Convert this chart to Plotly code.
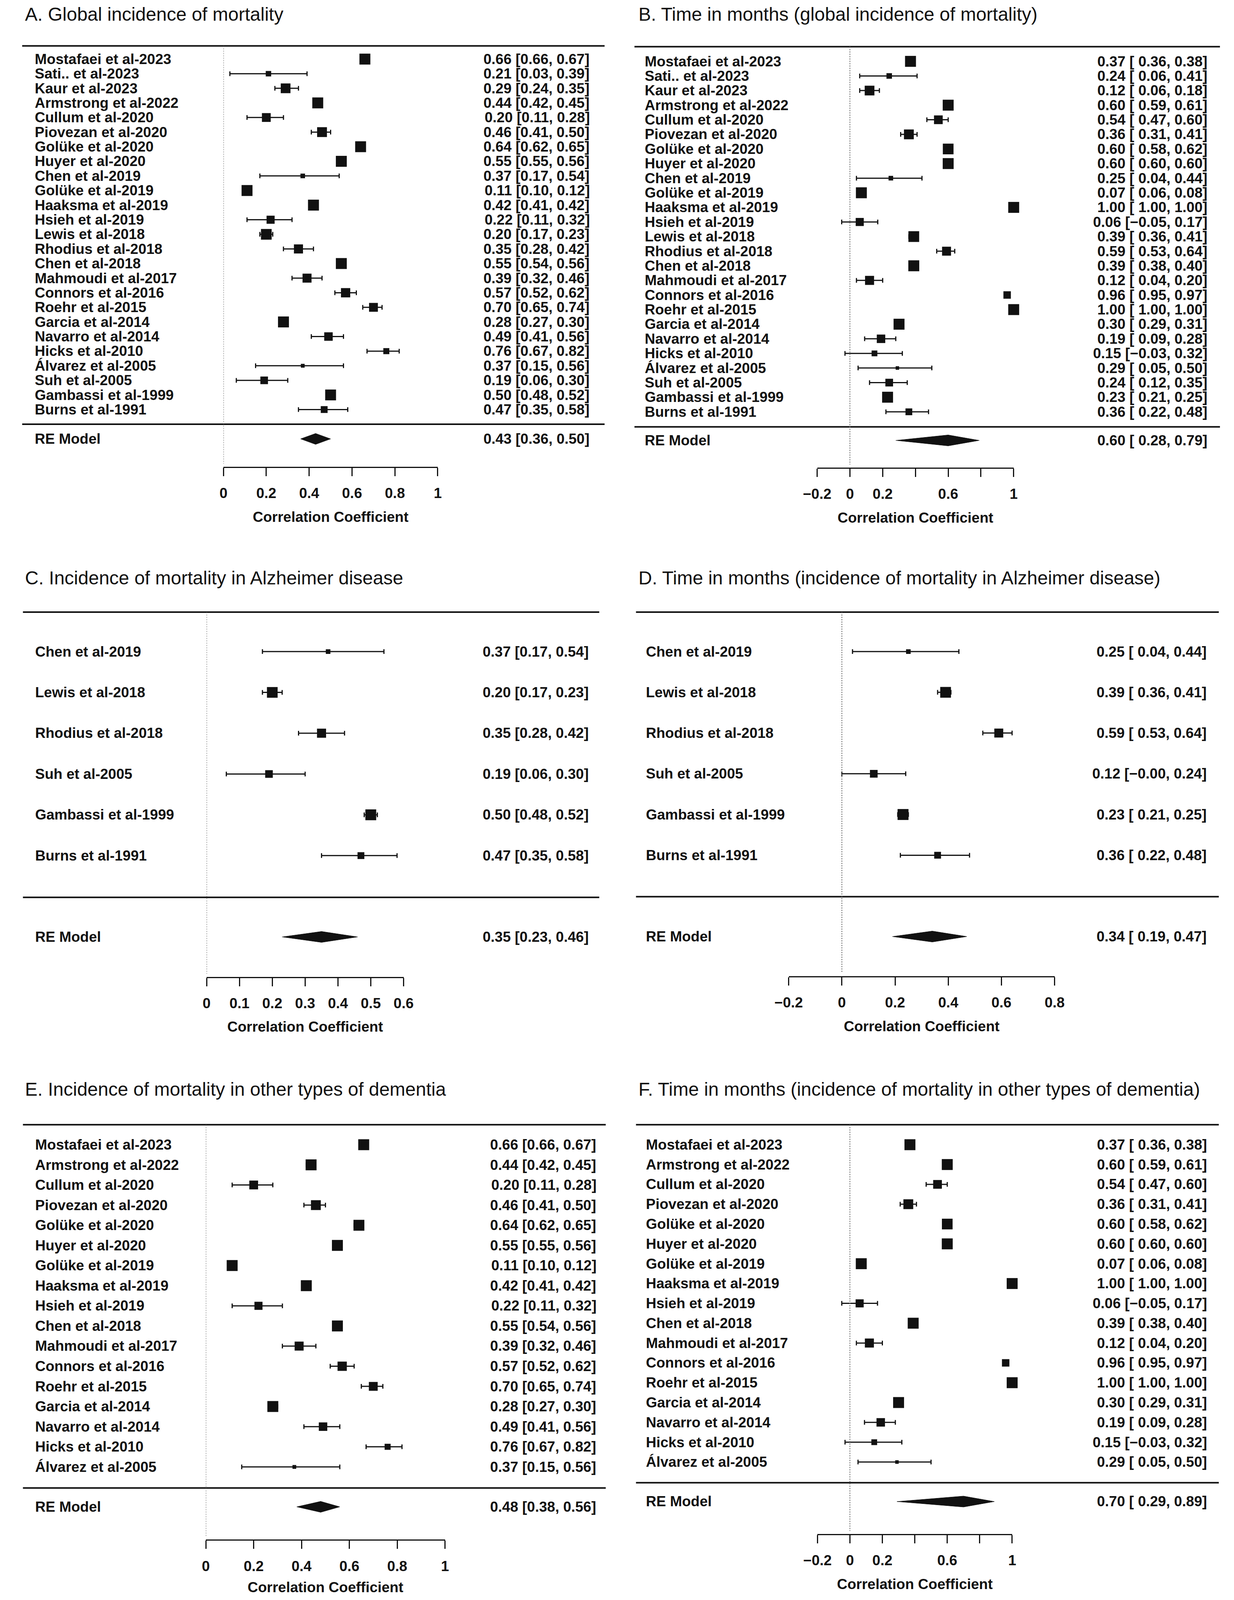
import numpy as np
import plotly.graph_objects as go

# reference canvas and the visible picture area
REF_W, REF_H = 3160, 4236
PIC_H = 4084                      # usable picture height
SY = PIC_H / REF_H                # vertical compression of the reference layout
OFF = 8                           # page body margin
FW, FH = REF_W - 2 * OFF, PIC_H - OFF

FONT = "Liberation Sans, Arial, Helvetica, sans-serif"
INK = "#111111"

# ------------------------------------------------------------------ data
# A. Global incidence of mortality
a_names = ["Mostafaei et al-2023", "Sati.. et al-2023", "Kaur et al-2023", "Armstrong et al-2022",
           "Cullum et al-2020", "Piovezan et al-2020", "Golüke et al-2020", "Huyer et al-2020",
           "Chen et al-2019", "Golüke et al-2019", "Haaksma et al-2019", "Hsieh et al-2019",
           "Lewis et al-2018", "Rhodius et al-2018", "Chen et al-2018", "Mahmoudi et al-2017",
           "Connors et al-2016", "Roehr et al-2015", "Garcia et al-2014", "Navarro et al-2014",
           "Hicks et al-2010", "Álvarez et al-2005", "Suh et al-2005", "Gambassi et al-1999",
           "Burns et al-1991"]
a_est = [0.66, 0.21, 0.29, 0.44, 0.20, 0.46, 0.64, 0.55, 0.37, 0.11, 0.42, 0.22, 0.20, 0.35, 0.55,
         0.39, 0.57, 0.70, 0.28, 0.49, 0.76, 0.37, 0.19, 0.50, 0.47]
a_lb = [0.66, 0.03, 0.24, 0.42, 0.11, 0.41, 0.62, 0.55, 0.17, 0.10, 0.41, 0.11, 0.17, 0.28, 0.54,
        0.32, 0.52, 0.65, 0.27, 0.41, 0.67, 0.15, 0.06, 0.48, 0.35]
a_ub = [0.67, 0.39, 0.35, 0.45, 0.28, 0.50, 0.65, 0.56, 0.54, 0.12, 0.42, 0.32, 0.23, 0.42, 0.56,
        0.46, 0.62, 0.74, 0.30, 0.56, 0.82, 0.56, 0.30, 0.52, 0.58]
a_re = [0.43, 0.36, 0.50]

# B. Time in months (global incidence of mortality)
b_names = a_names
b_est = [0.37, 0.24, 0.12, 0.60, 0.54, 0.36, 0.60, 0.60, 0.25, 0.07, 1.00, 0.06, 0.39, 0.59, 0.39,
         0.12, 0.96, 1.00, 0.30, 0.19, 0.15, 0.29, 0.24, 0.23, 0.36]
b_lb = [0.36, 0.06, 0.06, 0.59, 0.47, 0.31, 0.58, 0.60, 0.04, 0.06, 1.00, -0.05, 0.36, 0.53, 0.38,
        0.04, 0.95, 1.00, 0.29, 0.09, -0.03, 0.05, 0.12, 0.21, 0.22]
b_ub = [0.38, 0.41, 0.18, 0.61, 0.60, 0.41, 0.62, 0.60, 0.44, 0.08, 1.00, 0.17, 0.41, 0.64, 0.40,
        0.20, 0.97, 1.00, 0.31, 0.28, 0.32, 0.50, 0.35, 0.25, 0.48]
b_re = [0.60, 0.28, 0.79]

# C. Incidence of mortality in Alzheimer disease
c_names = ["Chen et al-2019", "Lewis et al-2018", "Rhodius et al-2018", "Suh et al-2005",
           "Gambassi et al-1999", "Burns et al-1991"]
c_est = [0.37, 0.20, 0.35, 0.19, 0.50, 0.47]
c_lb = [0.17, 0.17, 0.28, 0.06, 0.48, 0.35]
c_ub = [0.54, 0.23, 0.42, 0.30, 0.52, 0.58]
c_re = [0.35, 0.23, 0.46]

# D. Time in months (incidence of mortality in Alzheimer disease)
d_names = c_names
d_est = [0.25, 0.39, 0.59, 0.12, 0.23, 0.36]
d_lb = [0.04, 0.36, 0.53, -0.0, 0.21, 0.22]
d_ub = [0.44, 0.41, 0.64, 0.24, 0.25, 0.48]
d_re = [0.34, 0.19, 0.47]

# E. Incidence of mortality in other types of dementia
e_names = ["Mostafaei et al-2023", "Armstrong et al-2022", "Cullum et al-2020", "Piovezan et al-2020",
           "Golüke et al-2020", "Huyer et al-2020", "Golüke et al-2019", "Haaksma et al-2019",
           "Hsieh et al-2019", "Chen et al-2018", "Mahmoudi et al-2017", "Connors et al-2016",
           "Roehr et al-2015", "Garcia et al-2014", "Navarro et al-2014", "Hicks et al-2010",
           "Álvarez et al-2005"]
e_est = [0.66, 0.44, 0.20, 0.46, 0.64, 0.55, 0.11, 0.42, 0.22, 0.55, 0.39, 0.57, 0.70, 0.28, 0.49, 0.76, 0.37]
e_lb = [0.66, 0.42, 0.11, 0.41, 0.62, 0.55, 0.10, 0.41, 0.11, 0.54, 0.32, 0.52, 0.65, 0.27, 0.41, 0.67, 0.15]
e_ub = [0.67, 0.45, 0.28, 0.50, 0.65, 0.56, 0.12, 0.42, 0.32, 0.56, 0.46, 0.62, 0.74, 0.30, 0.56, 0.82, 0.56]
e_re = [0.48, 0.38, 0.56]

# F. Time in months (incidence of mortality in other types of dementia)
f_names = e_names
f_est = [0.37, 0.60, 0.54, 0.36, 0.60, 0.60, 0.07, 1.00, 0.06, 0.39, 0.12, 0.96, 1.00, 0.30, 0.19, 0.15, 0.29]
f_lb = [0.36, 0.59, 0.47, 0.31, 0.58, 0.60, 0.06, 1.00, -0.05, 0.38, 0.04, 0.95, 1.00, 0.29, 0.09, -0.03, 0.05]
f_ub = [0.38, 0.61, 0.60, 0.41, 0.62, 0.60, 0.08, 1.00, 0.17, 0.40, 0.20, 0.97, 1.00, 0.31, 0.28, 0.32, 0.50]
f_re = [0.70, 0.29, 0.89]

# tick values / labels
ticks_01 = [0, 0.2, 0.4, 0.6, 0.8, 1]
ticklab_01 = ["0", "0.2", "0.4", "0.6", "0.8", "1"]
ticks_m2_1 = [-0.2, 0, 0.2, 0.4, 0.6, 0.8, 1]
ticklab_m2_1 = ["\u22120.2", "0", "0.2", "", "0.6", "", "1"]
ticks_06 = [0, 0.1, 0.2, 0.3, 0.4, 0.5, 0.6]
ticklab_06 = ["0", "0.1", "0.2", "0.3", "0.4", "0.5", "0.6"]
ticks_m2_08 = [-0.2, 0, 0.2, 0.4, 0.6, 0.8]
ticklab_m2_08 = ["\u22120.2", "0", "0.2", "0.4", "0.6", "0.8"]

titles = ["A. Global incidence of mortality",
          "B. Time in months (global incidence of mortality)",
          "C. Incidence of mortality in Alzheimer disease",
          "D. Time in months (incidence of mortality in Alzheimer disease)",
          "E. Incidence of mortality in other types of dementia",
          "F. Time in months (incidence of mortality in other types of dementia)"]

# ------------------------------------------------------------------ layout (reference pixel geometry)
geo = [
    dict(tx=25, ty=38, top=122, lx=(20, 1542), first=157, last=1088, sep=1127, re=1166, axis=1240,
         x0=546, unit=560, labx=51, estx=1505),
    dict(tx=1628, ty=38, top=124, lx=(1620, 3150), first=163, last=1094, sep=1134, re=1170, axis=1242,
         x0=2183, unit=428, labx=1645, estx=3119),
    dict(tx=25, ty=1535, top=1626, lx=(22, 1528), first=1731, last=2273, sep=2384, re=2489, axis=2595,
         x0=502, unit=858, labx=52, estx=1503),
    dict(tx=1628, ty=1535, top=1626, lx=(1624, 3147), first=1731, last=2272, sep=2382, re=2488, axis=2593,
         x0=2162, unit=695, labx=1648, estx=3117),
    dict(tx=25, ty=2894, top=2988, lx=(22, 1545), first=3041, last=3897, sep=3953, re=4003, axis=4090,
         x0=500, unit=625, labx=52, estx=1522),
    dict(tx=1628, ty=2894, top=2988, lx=(1624, 3147), first=3041, last=3884, sep=3939, re=3989, axis=4075,
         x0=2183, unit=424, labx=1648, estx=3118),
]

data = [
    (a_names, a_est, a_lb, a_ub, a_re, ticks_01, ticklab_01),
    (b_names, b_est, b_lb, b_ub, b_re, ticks_m2_1, ticklab_m2_1),
    (c_names, c_est, c_lb, c_ub, c_re, ticks_06, ticklab_06),
    (d_names, d_est, d_lb, d_ub, d_re, ticks_m2_08, ticklab_m2_08),
    (e_names, e_est, e_lb, e_ub, e_re, ticks_01, ticklab_01),
    (f_names, f_est, f_lb, f_ub, f_re, ticks_m2_1, ticklab_m2_1),
]


def xp(px):
    return (px - OFF) / FW


def yp(px):
    return 1 - (px * SY - OFF) / FH


def fmt_col(vals):
    s = [f"{v:.2f}" for v in vals]
    m = max(len(t) for t in s)
    return [t.rjust(m).replace("-", "\u2212") for t in s]


TXT = dict(family=FONT, size=37, color=INK, weight="bold")

fig = go.Figure()
annotations = []
shapes = []
layout_axes = {}

for i, ((names, est, lb, ub, re, tv, tt), g, title) in enumerate(zip(data, geo, titles), start=1):
    est = np.array(est, float)
    lb = np.array(lb, float)
    ub = np.array(ub, float)
    n = len(names)
    sp = (g["last"] - g["first"]) / (n - 1)

    def yval(px, g=g, sp=sp):
        return -(px - g["first"]) / sp

    xs = "x" if i == 1 else f"x{i}"
    ys = "y" if i == 1 else f"y{i}"
    xk = "xaxis" if i == 1 else f"xaxis{i}"
    yk = "yaxis" if i == 1 else f"yaxis{i}"

    tmin, tmax = min(tv), max(tv)
    layout_axes[xk] = dict(
        domain=[xp(g["x0"] + g["unit"] * tmin), xp(g["x0"] + g["unit"] * tmax)],
        range=[tmin - 1e-6, tmax + 1e-6], anchor=ys,
        tickmode="array", tickvals=tv, ticktext=tt,
        ticks="outside", ticklen=21, tickwidth=3, tickcolor=INK,
        showline=True, linewidth=3, linecolor=INK,
        showgrid=False, zeroline=False, ticklabelstandoff=12,
        tickfont=TXT,
        title=dict(text="Correlation Coefficient", font=TXT, standoff=28),
    )
    layout_axes[yk] = dict(
        domain=[yp(g["axis"]), yp(g["top"])],
        range=[yval(g["axis"]), yval(g["top"])],
        visible=False, showgrid=False, zeroline=False,
    )

    rows = -np.arange(n)
    # marker size from CI width on the Fisher-z scale
    zw = np.arctanh(np.clip(ub, -0.999, 0.999)) - np.arctanh(np.clip(lb, -0.999, 0.999))
    sizes = np.clip(30 - 42 * zw, 9, 28)

    # confidence intervals (drawn first so squares sit on top)
    fig.add_trace(go.Scatter(
        x=est, y=rows, mode="markers", xaxis=xs, yaxis=ys, cliponaxis=False,
        marker=dict(size=1, color="rgba(0,0,0,0)"),
        error_x=dict(type="data", symmetric=False, array=ub - est, arrayminus=est - lb,
                     thickness=3, width=6, color=INK),
        showlegend=False, hoverinfo="skip"))
    # point estimates
    fig.add_trace(go.Scatter(
        x=est, y=rows, mode="markers", xaxis=xs, yaxis=ys, cliponaxis=False,
        marker=dict(symbol="square", size=sizes, color=INK, opacity=1, line=dict(width=0)),
        showlegend=False, hoverinfo="skip"))

    # RE diamond
    yre = yval(g["re"])
    hh = 14.5 / sp
    fig.add_trace(go.Scatter(
        x=[re[1], re[0], re[2], re[0], re[1]],
        y=[yre, yre + hh, yre, yre - hh, yre],
        mode="lines", fill="toself", fillcolor=INK, line=dict(color=INK, width=1),
        xaxis=xs, yaxis=ys, showlegend=False, hoverinfo="skip", cliponaxis=False))

    # text columns
    e_s = fmt_col(list(est) + [re[0]])
    l_s = fmt_col(list(lb) + [re[1]])
    u_s = fmt_col(list(ub) + [re[2]])
    labels = [f"{a} [{b}, {c}]" for a, b, c in zip(e_s, l_s, u_s)]
    ypos = list(rows) + [yre]
    for k, nm in enumerate(list(names) + ["RE Model"]):
        annotations.append(dict(text=nm, x=xp(g["labx"]), xref="paper", y=ypos[k], yref=ys,
                                xanchor="left", yanchor="middle", showarrow=False, font=TXT))
        annotations.append(dict(text=labels[k], x=xp(g["estx"]), xref="paper", y=ypos[k], yref=ys,
                                xanchor="right", yanchor="middle", showarrow=False, font=TXT))

    annotations.append(dict(text=title, x=xp(g["tx"]), xref="paper", y=yp(g["ty"]), yref="paper",
                            xanchor="left", yanchor="middle", showarrow=False,
                            font=dict(family=FONT, size=48, color=INK)))

    # frame lines
    for ypx in (g["top"], g["sep"]):
        shapes.append(dict(type="line", xref="paper", yref="paper",
                           x0=xp(g["lx"][0]), x1=xp(g["lx"][1]), y0=yp(ypx), y1=yp(ypx),
                           line=dict(color=INK, width=4)))
    # reference line at 0
    shapes.append(dict(type="line", xref=xs, yref="paper", x0=0, x1=0,
                       y0=yp(g["top"]), y1=yp(g["axis"] - 8),
                       line=dict(color="#666666", width=2, dash="dot")))

fig.update_layout(
    width=FW, height=FH, margin=dict(l=0, r=0, t=0, b=0),
    paper_bgcolor="white", plot_bgcolor="white",
    annotations=annotations, shapes=shapes, showlegend=False,
    **layout_axes,
)

fig.write_html("out.html")
